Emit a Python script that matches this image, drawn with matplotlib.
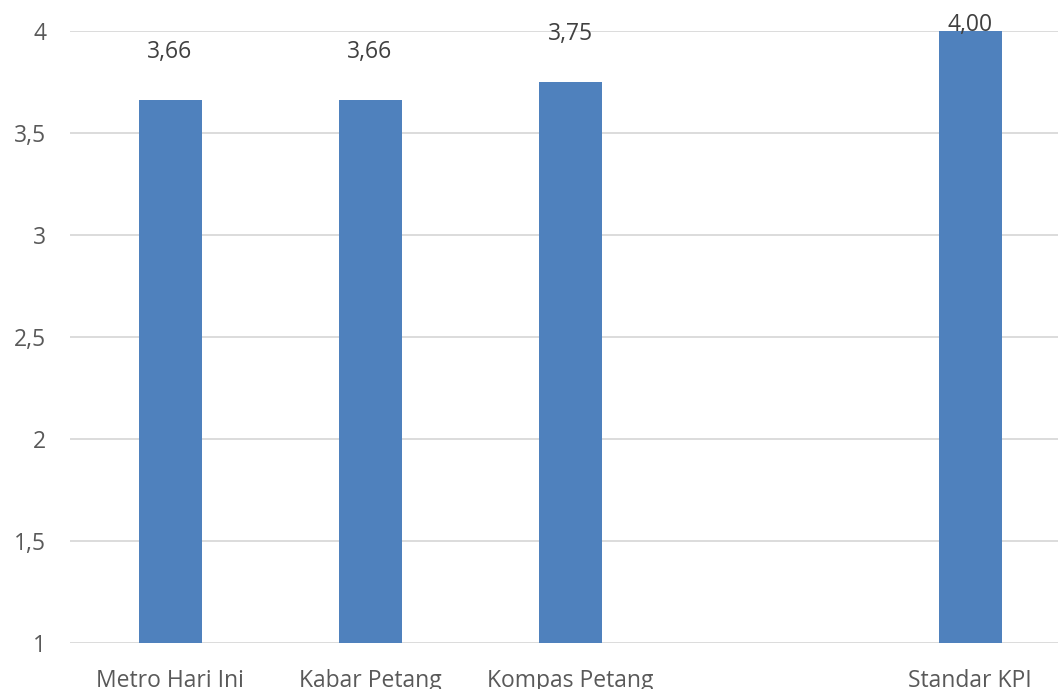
import numpy as np
import matplotlib.pyplot as plt

# data (empty fourth slot is a blank category in the original chart)
categories = ["Metro Hari Ini", "Kabar Petang", "Kompas Petang", "", "Standar KPI"]
values = [3.66, 3.66, 3.75, np.nan, 4.00]
value_labels = ["3,66", "3,66", "3,75", "", "4,00"]
y_ticks = [1, 1.5, 2, 2.5, 3, 3.5, 4]
y_tick_labels = ["1", "1,5", "2", "2,5", "3", "3,5", "4"]

plt.rcParams['font.family'] = ['Open Sans', 'DejaVu Sans']

W, H = 1058, 689
fig = plt.figure(figsize=(W / 100, H / 100), dpi=100)
ax = fig.add_axes([70 / W, 46 / H, 1000 / W, 612 / H])

x = np.arange(len(categories))
ax.bar(x, values, width=0.315, color='#4f81bd', zorder=3)

for xi, v, lab in zip(x, values, value_labels):
    if np.isnan(v):
        continue
    ax.text(xi, min(v + 0.235, 4.03), lab, ha='center', va='center',
            fontsize=16.5, color='#404040', zorder=4, clip_on=False)

ax.set_xlim(-0.5, len(categories) - 0.5)
ax.set_ylim(1, 4)
ax.set_yticks(y_ticks)
ax.set_yticklabels(y_tick_labels)
ax.set_xticks(x)
ax.set_xticklabels(categories)

ax.grid(True, axis='y', color='#d9d9d9', linewidth=1.3, zorder=0)
ax.set_axisbelow(True)
for s in ax.spines.values():
    s.set_visible(False)
ax.tick_params(axis='both', length=0, labelsize=16.5, colors='#595959')
ax.tick_params(axis='y', pad=17)
ax.tick_params(axis='x', pad=19)

fig.savefig('out.png', dpi=100)
